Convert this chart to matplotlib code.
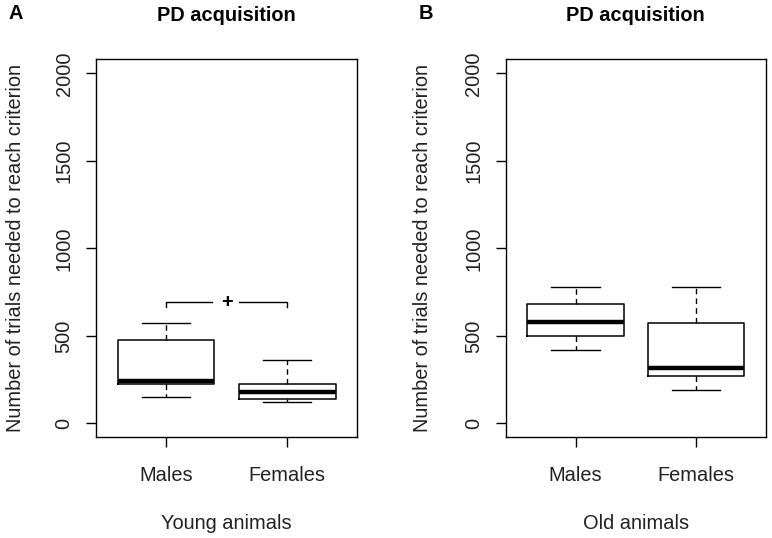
import matplotlib
matplotlib.use("Agg")
import matplotlib.pyplot as plt

plt.rcParams['font.family'] = ['Liberation Sans', 'DejaVu Sans']

groups = ["Males", "Females"]

# young animals: whisker low, q1, median, q3, whisker high
young_lo = [152, 121]
young_q1 = [226, 138]
young_med = [241, 182]
young_q3 = [477, 224]
young_hi = [571, 363]

# old animals
old_lo = [422, 192]
old_q1 = [497, 271]
old_med = [577, 317]
old_q3 = [680, 571]
old_hi = [782, 782]

xlabels = ["Young animals", "Old animals"]
letters = ["A", "B"]
yticks = [0, 500, 1000, 1500, 2000]

# significance bracket on young panel
sig_y = 691
sig_drop = 665

FS = 14.4


def make_stats(lo, q1, med, q3, hi):
    stats = []
    for i in range(len(groups)):
        stats.append(dict(whislo=lo[i], q1=q1[i], med=med[i], q3=q3[i],
                          whishi=hi[i], fliers=[], label=groups[i]))
    return stats


fig = plt.figure(figsize=(7.72, 5.38), dpi=100)
ax1 = fig.add_axes([0.124, 0.187, 0.339, 0.7026])
ax2 = fig.add_axes([0.655, 0.187, 0.337, 0.7026])

panels = [
    (ax1, make_stats(young_lo, young_q1, young_med, young_q3, young_hi), -0.27, -0.335),
    (ax2, make_stats(old_lo, old_q1, old_med, old_q3, old_hi), -0.285, -0.333),
]

for i, (ax, stats, ylab_x, letter_x) in enumerate(panels):
    ax.bxp(stats, positions=[1, 2], widths=0.8, showfliers=False,
           boxprops=dict(color="black", linewidth=1.1),
           medianprops=dict(color="black", linewidth=3.2, solid_capstyle="butt"),
           whiskerprops=dict(color="black", linewidth=1.0, linestyle=(0, (4, 3))),
           capprops=dict(color="black", linewidth=1.0),
           capwidths=0.4)
    ax.set_xlim(0.42, 2.58)
    ax.set_ylim(-80, 2080)
    ax.set_yticks(yticks)
    ax.set_yticklabels([str(t) for t in yticks], rotation=90, va="center",
                       fontsize=FS, color="#222222")
    ax.set_xticks([1, 2])
    ax.set_xticklabels(groups, fontsize=FS, color="#222222")
    ax.tick_params(axis="both", direction="out", length=7.5, width=1.0)
    ax.tick_params(axis="x", pad=13)
    ax.tick_params(axis="y", pad=8.5)
    for sp in ax.spines.values():
        sp.set_linewidth(1.0)
    ax.set_xlabel(xlabels[i], fontsize=FS, labelpad=21, color="#222222")
    ax.set_ylabel("Number of trials needed to reach criterion", fontsize=FS,
                  color="#222222")
    ax.yaxis.set_label_coords(ylab_x, 0.5)
    ax.set_title("PD acquisition", fontsize=FS, fontweight="bold", pad=28)
    ax.text(letter_x, 1.122, letters[i], transform=ax.transAxes, fontsize=FS,
            fontweight="bold", ha="left", va="center")

# bracket with "+"
ax1.plot([1, 1, 1.38], [sig_drop, sig_y, sig_y], color="black", linewidth=1.0)
ax1.plot([1.6, 2, 2], [sig_y, sig_y, sig_drop], color="black", linewidth=1.0)
ax1.text(1.5, sig_y, "+", ha="center", va="center", fontsize=FS, fontweight="bold")

fig.savefig("out.png", dpi=100)
